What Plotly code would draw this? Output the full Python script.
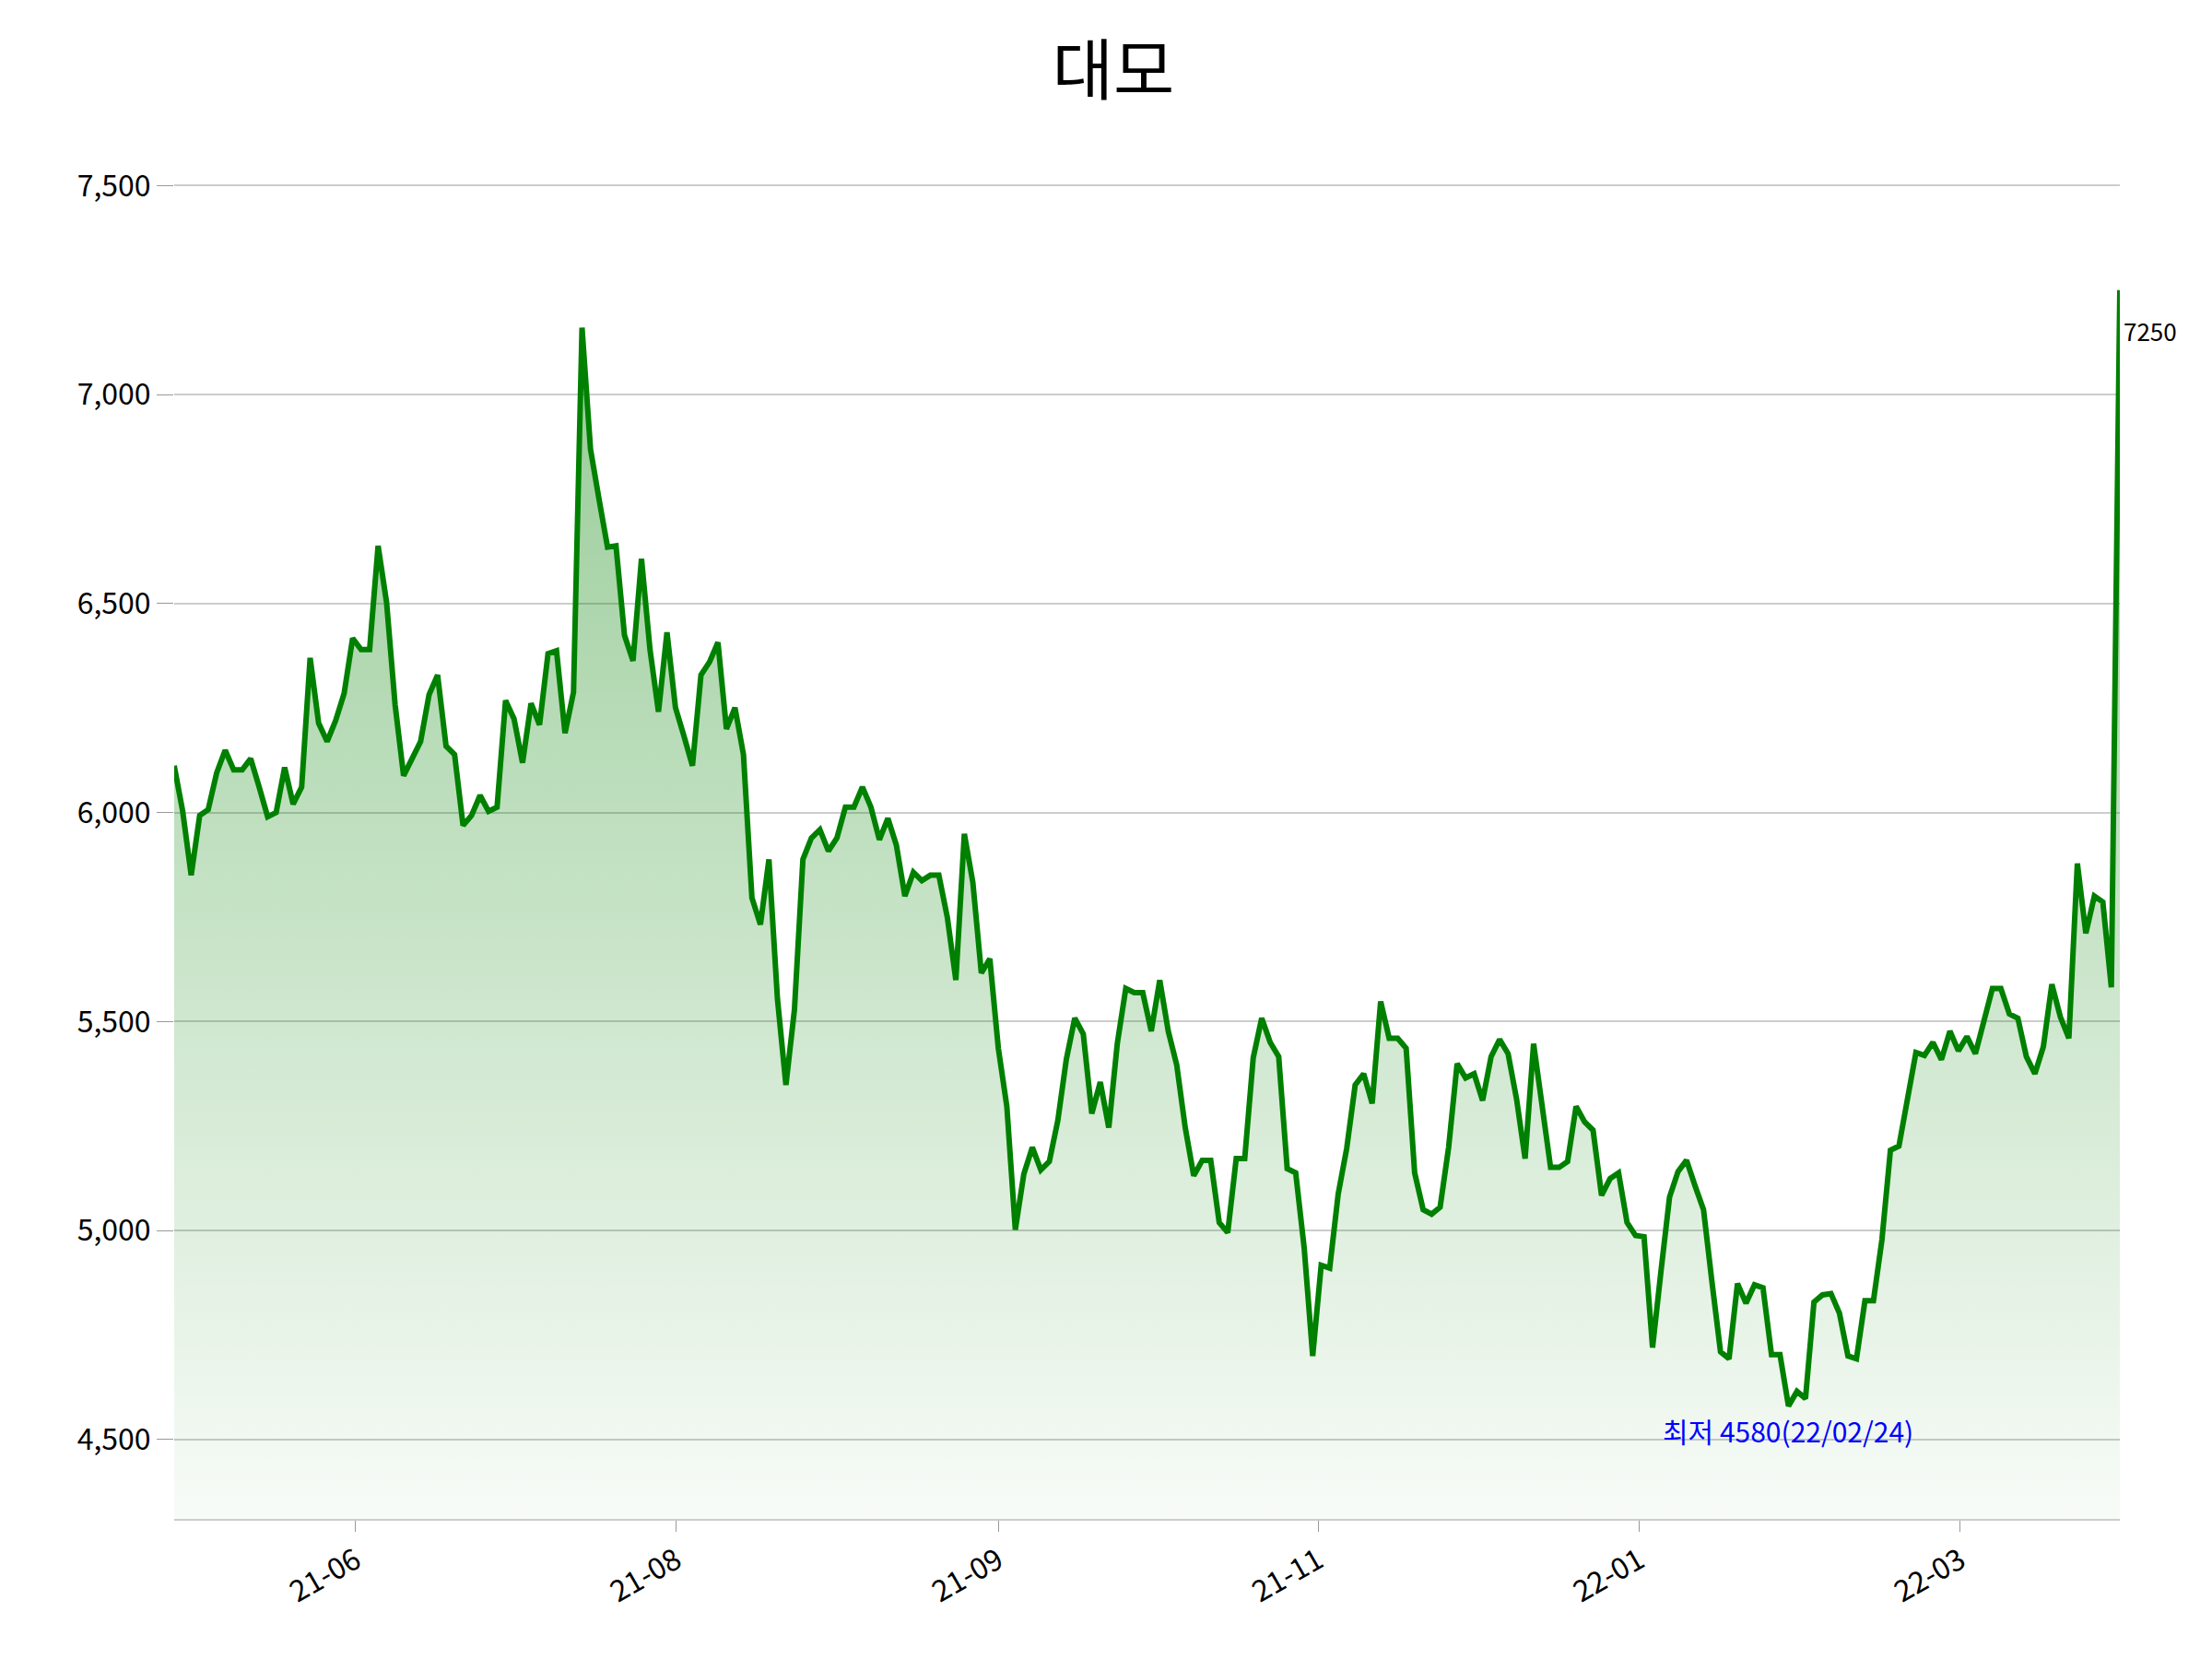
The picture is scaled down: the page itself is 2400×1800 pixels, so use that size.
import plotly.graph_objects as go

title = "대모"
prices = [6112,6003,5850,5993,6007,6095,6149,6102,6102,6129,6061,5990,6000,6108,6020,6061,6370,6214,6170,6220,
6285,6417,6390,6390,6638,6502,6258,6088,6129,6170,6282,6329,6159,6139,5969,5993,6041,6003,6013,6268,
6224,6119,6261,6210,6380,6387,6190,6288,7160,6869,6750,6635,6638,6424,6363,6607,6390,6241,6431,6251,
6183,6112,6329,6360,6407,6200,6251,6139,5796,5732,5888,5555,5348,5528,5888,5939,5959,5908,5939,6013,
6013,6061,6013,5935,5986,5922,5800,5857,5837,5850,5850,5749,5599,5949,5833,5616,5650,5436,5297,5002,
5135,5199,5145,5165,5263,5409,5508,5470,5280,5355,5246,5447,5579,5569,5569,5477,5599,5477,5396,5246,
5131,5168,5168,5019,4995,5172,5172,5413,5508,5450,5416,5148,5138,4958,4700,4917,4910,5087,5196,5348,
5375,5304,5548,5460,5460,5436,5138,5050,5039,5056,5199,5399,5365,5375,5311,5416,5457,5423,5314,5172,
5447,5297,5151,5151,5165,5297,5260,5240,5084,5124,5138,5019,4988,4985,4720,4904,5080,5141,5168,5107,
5050,4876,4710,4693,4873,4826,4870,4863,4703,4703,4580,4615,4598,4829,4846,4849,4802,4700,4693,4832,
4832,4978,5192,5202,5307,5426,5419,5450,5409,5477,5430,5464,5423,5508,5579,5579,5518,5508,5416,5375,
5440,5589,5511,5460,5878,5711,5800,5786,5582,7250]
tick_labels = ["21-06", "21-08", "21-09", "21-11", "22-01", "22-03"]
tick_fracs = [0.0933, 0.258, 0.4235, 0.588, 0.753, 0.918]
min_label = "최저 4580(22/02/24)"

n = len(prices)
xs = list(range(n))
tickvals = [f * (n - 1) for f in tick_fracs]
imin = prices.index(min(prices))

font = "Noto Sans CJK KR, Noto Sans, sans-serif"
fig = go.Figure()
fig.add_trace(go.Scatter(
    x=xs, y=prices, mode="lines",
    line=dict(color="#008000", width=6),
    fill="tozeroy",
    fillgradient=dict(type="vertical", start=4310, stop=7250,
                      colorscale=[[0, "rgba(0,128,0,0.03)"], [1, "rgba(0,128,0,0.42)"]]),
    hoverinfo="skip", showlegend=False))

fig.add_annotation(x=imin, y=prices[imin], text=min_label, showarrow=False,
                   yshift=-26, font=dict(color="blue", size=30, family=font))
fig.add_annotation(x=n - 1, y=prices[-1], text=str(prices[-1]), showarrow=False,
                   xanchor="left", yshift=-44, xshift=2, font=dict(color="black", size=26, family=font))

fig.update_layout(
    width=2400, height=1800,
    paper_bgcolor="white", plot_bgcolor="white",
    margin=dict(l=181, r=108, t=148, b=160),
    title=dict(text=title, x=0.5, xanchor="center", y=0.962, yanchor="middle",
               font=dict(size=72, family=font, color="black")),
    font=dict(family=font, size=32, color="black"),
)
fig.update_xaxes(range=[0, n - 1], tickvals=tickvals, ticktext=tick_labels,
                 tickangle=-30, showgrid=False, showline=True, linecolor="#cccccc", linewidth=2,
                 ticks="outside", ticklen=12, tickcolor="#999999", zeroline=False,
                 tickfont=dict(size=32))
fig.update_yaxes(range=[4310, 7600], tickvals=[4500, 5000, 5500, 6000, 6500, 7000, 7500],
                 tickformat=",", showgrid=True, gridcolor="#cccccc", gridwidth=1.5,
                 ticks="outside", ticklen=18, tickcolor="#999999", zeroline=False,
                 showline=False, tickfont=dict(size=32))
fig.write_html("out.html")
